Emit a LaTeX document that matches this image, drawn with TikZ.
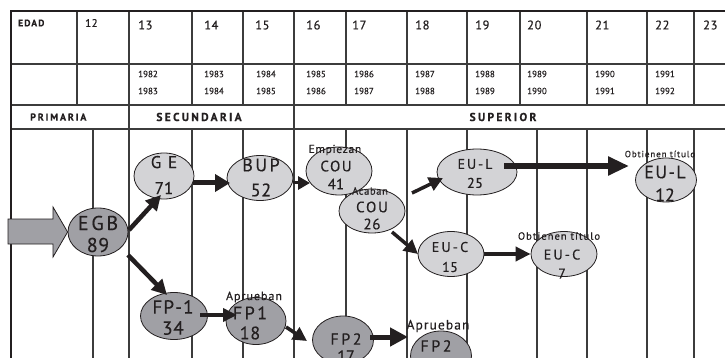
\documentclass[tikz,border=0pt]{standalone}
\usepackage{fontspec}
\setmainfont{PT Sans}[FakeBold=0.4]
\usetikzlibrary{shapes.geometric,arrows.meta,calc}
\definecolor{lightell}{RGB}{211,211,214}
\definecolor{darkell}{RGB}{160,160,165}
\definecolor{gridc}{RGB}{60,60,60}
\definecolor{ink}{RGB}{35,31,32}
\newcommand{\lsp}[1]{\addfontfeature{LetterSpace=#1}}
\begin{document}
\begin{tikzpicture}[x=1pt,y=-1pt,
  ellbase/.style={ellipse, draw=ink, line width=0.8pt, inner sep=0},
  lt/.style={ellbase, fill=lightell},
  dk/.style={ellbase, fill=darkell},
  gridline/.style={draw=gridc, line width=1.1pt},
  hline/.style={draw=gridc, line width=1.4pt},
  borderline/.style={draw=ink, line width=2.6pt},
  hd/.style={anchor=west, inner sep=0, text=ink},
  intext/.style={align=center, inner sep=0, text=ink},
  lab/.style={inner sep=0, text=ink, font=\fontsize{9}{9}\selectfont\lsp{8}},
  blk/.style n args={3}{draw=ink, line width=#1, -{Triangle[length=#2,width=#3]}},
]
\useasboundingbox (0,0) rectangle (725,358);
\clip (0,0) rectangle (725,358);
\fill[white] (0,0) rectangle (725,358);

% header vertical lines (rows 1-2)
\foreach \x in {77,129,192,243,294,346,407,467,520,587,647,694}
  \draw[gridline] (\x,11) -- (\x,105);
% row 3 dividers
\foreach \x in {129,294}
  \draw[gridline] (\x,105) -- (\x,129);
% body vertical lines
\foreach \x in {93,129,192,243,294,346,407,467,537,587,647,694}
  \draw[gridline] (\x,129) -- (\x,358);
% horizontal lines
\foreach \y in {64,105,129}
  \draw[hline] (11,\y) -- (725,\y);
% borders
\draw[borderline] (11,358) -- (11,11) -- (725,11);

% header texts
\node[hd, font=\fontsize{9.5}{9.5}\selectfont\bfseries\lsp{12}] (hedad) at (18,23) {EDAD};
\node[hd, font=\fontsize{11}{11}\selectfont\lsp{4}] (h12) at (85,23) {12};
\foreach \x/\n in {138/13,204/14,255/15,306/16,352/17,415/18,475/19,527/20,595/21,655/22,703/23}
  \node[hd, font=\fontsize{12.5}{12.5}\selectfont\lsp{5}] (h\n) at (\x,25) {\n};
\foreach \x/\a/\b in {138/1982/1983,204/1983/1984,256/1984/1985,306/1985/1986,354/1986/1987,415/1987/1988,475/1988/1989,527/1989/1990,595/1990/1991,655/1991/1992}
  \node[hd, align=left, font=\fontsize{9}{17}\selectfont] (y\a) at (\x,82.5) {\a\\\b};
\node[hd, font=\fontsize{10}{10}\selectfont\bfseries\lsp{18}] (hprim) at (30,117) {PRIMARIA};
\node[inner sep=0, text=ink, font=\fontsize{11.5}{11.5}\selectfont\bfseries\lsp{20}] (hsec) at (199,117) {SECUNDARIA};
\node[inner sep=0, text=ink, font=\fontsize{11.5}{11.5}\selectfont\bfseries\lsp{20}] (hsup) at (503,117) {SUPERIOR};

% ellipses
\node[dk, minimum width=60, minimum height=48] (egb) at (98,232) {};
\node[lt, minimum width=60, minimum height=46] (ge) at (164,176) {};
\node[lt, minimum width=66, minimum height=45] (bup) at (260,178) {};
\node[lt, minimum width=66, minimum height=48] (cou41) at (339,171) {};
\node[lt, minimum width=66, minimum height=44] (cou26) at (372,211) {};
\node[lt, minimum width=80, minimum height=46] (eul25) at (477,172) {};
\node[lt, minimum width=61, minimum height=44] (eul12) at (666,180) {};
\node[lt, minimum width=66, minimum height=45] (euc15) at (451,254) {};
\node[lt, minimum width=66, minimum height=45] (euc7) at (564,254) {};
\node[dk, minimum width=67, minimum height=47] (fp1a) at (174,316) {};
\node[dk, minimum width=60, minimum height=47] (fp1b) at (256,321) {};
\node[dk, minimum width=61, minimum height=48] (fp2a) at (343,340) {};
\node[dk, minimum width=61, minimum height=50] (fp2b) at (441,356) {};

% big entry arrow
\draw[fill=darkell, draw=ink, line width=0.8pt]
  (8,219) -- (53,219) -- (53,207) -- (egb.west) -- (53,257) -- (53,244) -- (8,244) -- cycle;

% arrows
\draw[blk={4.5pt}{15pt}{15pt}] ($(egb.center)+(31,-2)$) -- ($(ge.center)+(-3,19)$);
\draw[blk={4.5pt}{15pt}{15pt}] ($(egb.center)+(30,23)$) -- ($(fp1a.center)+(-7,-21)$);
\draw[blk={5pt}{15pt}{17pt}] ($(ge.center)+(29,7)$) -- ($(bup.center)+(-30,5)$);
\draw[blk={3pt}{12pt}{13pt}] ($(bup.center)+(33,5)$) -- ($(cou41.center)+(-29,12)$);
\draw[blk={3.5pt}{14pt}{14pt}] ($(cou26.center)+(40,-18)$) -- ($(eul25.center)+(-34,6)$);
\draw[blk={3.5pt}{14pt}{14pt}] ($(cou26.center)+(20,21)$) -- ($(euc15.center)+(-33,0)$);
\draw[blk={5.5pt}{21pt}{18pt}] ($(eul25.center)+(27,-6)$) -- ($(eul12.center)+(-37,-14)$);
\draw[blk={4pt}{15pt}{14pt}] (euc15.east) -- (euc7.west);
\draw[blk={3.5pt}{14pt}{13pt}] ($(fp1a.center)+(26,-1)$) -- ($(fp1b.center)+(-19,-6)$);
\draw[blk={3.5pt}{14pt}{14pt}] ($(fp1b.center)+(30,6)$) -- ($(fp2a.center)+(-36,1)$);
\draw[blk={5pt}{18pt}{18pt}] ($(fp2a.center)+(27,-3)$) -- ($(fp2b.center)+(-33,-19)$);

% texts inside ellipses
\node[intext, font=\fontsize{20}{22}\selectfont\lsp{3}] (egbt) at (98,234) {{\lsp{14}EGB}\\89};
\node[intext, font=\fontsize{17}{26}\selectfont] (get) at (164,175) {{\lsp{40}GE}\\71};
\node[intext, font=\fontsize{18}{25}\selectfont\lsp{4}] (bupt) at (261,177.5) {{\lsp{14}BUP}\\52};
\node[intext, font=\fontsize{15}{18}\selectfont] (cou41t) at (336,175) {{\lsp{10}COU}\\41};
\node[intext, font=\fontsize{15}{17}\selectfont\lsp{4}] (cou26t) at (372,215.5) {{\lsp{12}COU}\\26};
\node[intext, font=\fontsize{14}{19}\selectfont\lsp{4}] (eul25t) at (475,173.5) {{\lsp{14}EU-L}\\25};
\node[intext, font=\fontsize{18}{23}\selectfont] (eul12t) at (665,183.5) {{\lsp{8}EU-L}\\12};
\node[intext, font=\fontsize{14}{20}\selectfont\lsp{3}] (euc15t) at (450,257) {{\lsp{16}EU-C}\\15};
\node[intext, font=\fontsize{14}{19}\selectfont] (euc7t) at (562,264) {{\lsp{16}EU-C}\\7};
\node[intext, font=\fontsize{19}{21}\selectfont\lsp{4}] (fp1at) at (173,317.5) {{\lsp{6}FP-1}\\34};
\node[intext, font=\fontsize{18}{20}\selectfont\lsp{4}] (fp1bt) at (250,323) {{\lsp{14}FP1}\\18};
\node[intext, font=\fontsize{16}{17}\selectfont] (fp2at) at (346,347.5) {{\lsp{16}FP2}\\17};
\node[intext, font=\fontsize{16}{19}\selectfont] (fp2bt) at (436,355.5) {{\lsp{16}FP2}\\8};

% small labels
\node[lab, font=\fontsize{11.5}{11.5}\selectfont\lsp{6}] (lemp) at (335,150) {Empiezan};
\node[lab, font=\fontsize{10.5}{10.5}\selectfont\lsp{6}] (laca) at (370,191) {Acaban};
\node[lab, font=\fontsize{9}{9}\selectfont\lsp{10}] (lobt1) at (660,154) {Obtienen título};
\node[lab, font=\fontsize{10.5}{10.5}\selectfont\lsp{10}] (lobt2) at (559,236) {Obtienen título};
\node[lab, font=\fontsize{12}{12}\selectfont\lsp{8}] (lapr1) at (254,297) {Aprueban};
\node[lab, font=\fontsize{13.5}{13.5}\selectfont\lsp{8}] (lapr2) at (438,326) {Aprueban};
\end{tikzpicture}
\end{document}
